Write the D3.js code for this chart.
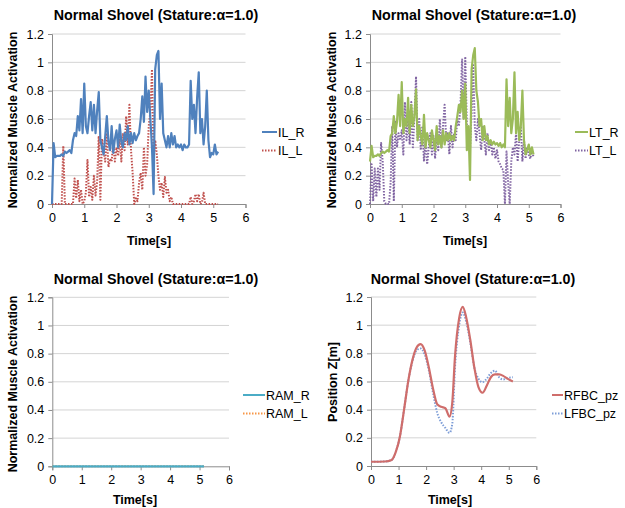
<!DOCTYPE html>
<html>
<head>
<meta charset="utf-8">
<script src="https://cdn.jsdelivr.net/npm/d3@7"></script>
<style>
  body { margin: 0; background: #fff; }
  text { font-family: "Liberation Sans", Arial, sans-serif; }
</style>
</head>
<body>
<script>
// sampled every 0.05 s
var timeStep = 0.05;

var IL_R = [0.0, 0.43, 0.33, 0.34, 0.34, 0.34, 0.35, 0.34, 0.37, 0.36,
  0.37, 0.38, 0.36, 0.45, 0.5, 0.48, 0.62, 0.52, 0.74, 0.5,
  0.85, 0.55, 0.5, 0.62, 0.72, 0.52, 0.7, 0.5, 0.66, 0.79,
  0.45, 0.4, 0.35, 0.48, 0.62, 0.44, 0.38, 0.55, 0.36, 0.46,
  0.52, 0.4, 0.56, 0.44, 0.4, 0.5, 0.45, 0.55, 0.42, 0.5,
  0.43, 0.5, 0.45, 0.48, 0.5, 0.6, 0.76, 0.58, 0.9, 0.65,
  0.8, 0.6, 0.4, 0.07, 0.95, 1.05, 1.08, 0.6, 0.85, 0.5,
  0.45, 0.4, 0.48, 0.4, 0.5, 0.42, 0.48, 0.4, 0.42, 0.4,
  0.42, 0.38, 0.42, 0.4, 0.4, 0.42, 0.87, 0.6, 0.7, 0.5,
  0.75, 0.93, 0.5, 0.6, 0.42, 0.55, 0.8, 0.45, 0.33, 0.36,
  0.35, 0.42, 0.35, 0.37];

var IL_L = [0, 0, 0, 0, 0, 0, 0, 0.41, 0, 0,
  0, 0, 0, 0, 0.18, 0.04, 0.17, 0.02, 0.1, 0,
  0.02, 0.08, 0.31, 0.05, 0.12, 0.03, 0.2, 0.06, 0.16, 0.48,
  0.03, 0.46, 0.38, 0.3, 0.5, 0.26, 0.32, 0.3, 0.44, 0.3,
  0.4, 0.34, 0.46, 0.3, 0.5, 0.38, 0.62, 0.42, 0.7, 0.38,
  0.22, 0, 0.04, 0.02, 0.15, 0.22, 0.1, 0.4, 0.2, 0.28,
  0.55, 0.65, 0.95, 0.3, 0.45, 0.35, 0.2, 0.1, 0.15, 0.05,
  0.19, 0.08, 0.1, 0.02, 0.05, 0, 0, 0, 0, 0,
  0, 0, 0, 0, 0, 0, 0.05, 0, 0.02, 0.07,
  0.02, 0.07, 0, 0.01, 0.08, 0, 0, 0, 0, 0,
  0, 0, 0, 0];

var LT_R = [0.3, 0.41, 0.33, 0.34, 0.34, 0.35, 0.34, 0.36, 0.37, 0.36,
  0.37, 0.38, 0.37, 0.48, 0.5, 0.62, 0.5, 0.58, 0.77, 0.55,
  0.86, 0.5, 0.6, 0.55, 0.75, 0.5, 0.7, 0.55, 0.62, 0.81,
  0.45, 0.55, 0.48, 0.42, 0.63, 0.4, 0.5, 0.45, 0.4, 0.52,
  0.45, 0.38, 0.55, 0.42, 0.48, 0.4, 0.52, 0.42, 0.5, 0.45,
  0.5, 0.45, 0.48, 0.45, 0.55, 0.62, 0.7, 0.65, 0.8, 0.6,
  0.85, 0.38, 0.55, 0.17, 0.95, 1.05, 1.1, 0.8, 0.72, 0.55,
  0.6, 0.45, 0.55, 0.45, 0.48, 0.42, 0.45, 0.42, 0.44, 0.42,
  0.43, 0.41, 0.43, 0.4, 0.42, 0.4, 0.88, 0.55, 0.75, 0.5,
  0.6, 0.93, 0.5, 0.65, 0.45, 0.55, 0.8, 0.45, 0.35, 0.38,
  0.42, 0.35, 0.4, 0.35];

var LT_L = [0, 0.28, 0.02, 0.25, 0.05, 0.25, 0.1, 0.43, 0.3, 0.02,
  0, 0, 0, 0.15, 0.55, 0.02, 0.58, 0.4, 0.5, 0.45,
  0.52, 0.35, 0.72, 0.45, 0.6, 0.42, 0.72, 0.4, 0.62, 0.9,
  0.45, 0.6, 0.38, 0.55, 0.3, 0.45, 0.28, 0.4, 0.5, 0.35,
  0.48, 0.32, 0.5, 0.38, 0.6, 0.4, 0.55, 0.7, 0.45, 0.5,
  0.35, 0.55, 0.4, 0.5, 0.45, 0.6, 0.55, 0.7, 1.02, 0.6,
  1.04, 0.55, 0.42, 0.38, 0.65, 0.98, 0.55, 0.45, 0.6, 0.5,
  0.38, 0.55, 0.45, 0.35, 0.5, 0.38, 0.45, 0.35, 0.4, 0.32,
  0.38, 0.3, 0.28, 0.25, 0.24, 0, 0.37, 0.15, 0, 0.3,
  0.4, 0.35, 0.5, 0.3, 0.45, 0.55, 0.3, 0.45, 0.32, 0.4,
  0.35, 0.32, 0.38, 0.33];

var ramTime = [0, 1, 2, 3, 4, 5, 5.15];
var RAM_R = [0, 0, 0, 0, 0, 0, 0];
var RAM_L = [0, 0, 0, 0, 0, 0, 0];

var fbcTime = [0, 0.5, 0.75, 0.9, 1.05, 1.2, 1.35, 1.5, 1.65, 1.8, 1.95, 2.1, 2.25, 2.4, 2.55, 2.7, 2.85, 2.95,
  3.05, 3.2, 3.33, 3.45, 3.6, 3.75, 3.9, 4.05, 4.2, 4.35, 4.5, 4.65, 4.8, 4.95, 5.15];
var RFBC_pz = [0.03, 0.032, 0.043, 0.1, 0.21, 0.4, 0.6, 0.75, 0.84, 0.866, 0.82, 0.7, 0.55, 0.44, 0.42, 0.41, 0.35, 0.45,
  0.78, 1.05, 1.13, 1.06, 0.9, 0.7, 0.56, 0.52, 0.57, 0.63, 0.65, 0.65, 0.64, 0.62, 0.6];
var LFBC_pz = [0.03, 0.032, 0.043, 0.1, 0.21, 0.4, 0.6, 0.74, 0.82, 0.835, 0.79, 0.68, 0.52, 0.38, 0.31, 0.27, 0.235, 0.3,
  0.7, 1.0, 1.09, 1.03, 0.88, 0.7, 0.62, 0.595, 0.62, 0.66, 0.677, 0.63, 0.615, 0.625, 0.63];

var xTicks = [0, 1, 2, 3, 4, 5, 6];
var yTicks = [0, 0.2, 0.4, 0.6, 0.8, 1, 1.2];
var chartTitle = "Normal Shovel (Stature:\u03b1=1.0)";

function sampled(vals) {
  return vals.map(function(v, i){ return [i * timeStep, v]; });
}
function paired(ts, vals) {
  return vals.map(function(v, i){ return [ts[i], v]; });
}

var panels = [
  { x: [52, 245.5], y: [204, 34], titleX: 156, titleY: 20, yLabel: "Normalized  Muscle Activation", yLabelX: 17, yLabelY: 120,
    xLabelX: 149, xLabelY: 245, legX: 262, legW: 15, legY: 132, smooth: false,
    series: [{name: "IL_R", data: sampled(IL_R), color: "#4f81bd", dash: null},
             {name: "IL_L", data: sampled(IL_L), color: "#c0504d", dash: "1.5,1.5"}] },
  { x: [370, 560.5], y: [204, 34], titleX: 474, titleY: 20, yLabel: "Normalized  Muscle Activation", yLabelX: 336, yLabelY: 120,
    xLabelX: 465, xLabelY: 245, legX: 575, legW: 13, legY: 132, smooth: false,
    series: [{name: "LT_R", data: sampled(LT_R), color: "#9bbb59", dash: null},
             {name: "LT_L", data: sampled(LT_L), color: "#8064a2", dash: "1.5,1.5"}] },
  { x: [52.3, 229], y: [466.3, 297.3], titleX: 156, titleY: 284, yLabel: "Normalized  Muscle Activation", yLabelX: 17, yLabelY: 384,
    xLabelX: 135, xLabelY: 504, legX: 243, legW: 22, legY: 395, smooth: false,
    series: [{name: "RAM_R", data: paired(ramTime, RAM_R), color: "#4bacc6", dash: null},
             {name: "RAM_L", data: paired(ramTime, RAM_L), color: "#f79646", dash: "1.5,1.5"}] },
  { x: [371, 536.3], y: [466, 297], titleX: 473, titleY: 284, yLabel: "Position Z[m]", yLabelX: 337, yLabelY: 382,
    xLabelX: 450, xLabelY: 504, legX: 552, legW: 11, legY: 395, smooth: true,
    series: [{name: "RFBC_pz", data: paired(fbcTime, RFBC_pz), color: "#cf6d6b", dash: null},
             {name: "LFBC_pz", data: paired(fbcTime, LFBC_pz), color: "#7d9dd7", dash: "1.5,1.5"}] }
];

var svg = d3.select("body").append("svg")
    .attr("width", 625)
    .attr("height", 508);

panels.forEach(function(p){
  var x = d3.scaleLinear().domain([0, 6]).range(p.x);
  var y = d3.scaleLinear().domain([0, 1.2]).range(p.y);
  var g = svg.append("g");

  // gridlines
  g.selectAll(".grid").data(yTicks.slice(1)).enter().append("line")
    .attr("x1", p.x[0]).attr("x2", p.x[1])
    .attr("y1", function(d){ return y(d); }).attr("y2", function(d){ return y(d); })
    .attr("stroke", "#d4d4d4").attr("stroke-width", 1);

  var yAxis = g.append("g").attr("transform", "translate(" + p.x[0] + ",0)")
    .call(d3.axisLeft(y).tickValues(yTicks).tickSize(4).tickPadding(4)
      .tickFormat(function(d){ return String(+d.toFixed(1)); }));
  var xAxis = g.append("g").attr("transform", "translate(0," + p.y[0] + ")")
    .call(d3.axisBottom(x).tickValues(xTicks).tickSize(4).tickPadding(5).tickFormat(d3.format("d")));
  [yAxis, xAxis].forEach(function(a){
    a.select(".domain").attr("stroke", "#8c8c8c");
    a.selectAll(".tick line").attr("stroke", "#8c8c8c");
    a.selectAll("text").attr("fill", "#000").style("font-size", "12.5px")
      .style("font-family", "'Liberation Sans', Arial, sans-serif");
  });

  var line = d3.line()
    .x(function(d){ return x(d[0]); })
    .y(function(d){ return y(d[1]); })
    .curve(p.smooth ? d3.curveMonotoneX : d3.curveLinear);

  // dotted series first so the solid one sits on top
  p.series.slice().reverse().forEach(function(s){
    g.append("path").datum(s.data)
      .attr("d", line)
      .attr("fill", "none")
      .attr("stroke", s.color)
      .attr("stroke-width", s.dash ? 2 : 2.2)
      .attr("stroke-dasharray", s.dash)
      .attr("stroke-linejoin", "round");
  });

  g.append("text").attr("x", p.titleX).attr("y", p.titleY)
    .attr("text-anchor", "middle").style("font-size", "14.3px").style("font-weight", "bold")
    .text(chartTitle);
  g.append("text").attr("x", p.xLabelX).attr("y", p.xLabelY)
    .attr("text-anchor", "middle").style("font-size", "12.5px").style("font-weight", "bold")
    .text("Time[s]");
  g.append("text")
    .attr("transform", "translate(" + p.yLabelX + "," + p.yLabelY + ") rotate(-90)")
    .attr("text-anchor", "middle").style("font-size", "12.5px").style("font-weight", "bold")
    .text(p.yLabel);

  // legend
  p.series.forEach(function(s, i){
    var ly = p.legY + i * 18.5;
    g.append("line").attr("x1", p.legX).attr("x2", p.legX + p.legW)
      .attr("y1", ly).attr("y2", ly)
      .attr("stroke", s.color).attr("stroke-width", 2).attr("stroke-dasharray", s.dash);
    g.append("text").attr("x", p.legX + p.legW + 1).attr("y", ly + 4.5)
      .style("font-size", "12.5px").text(s.name);
  });
});
</script>
</body>
</html>
